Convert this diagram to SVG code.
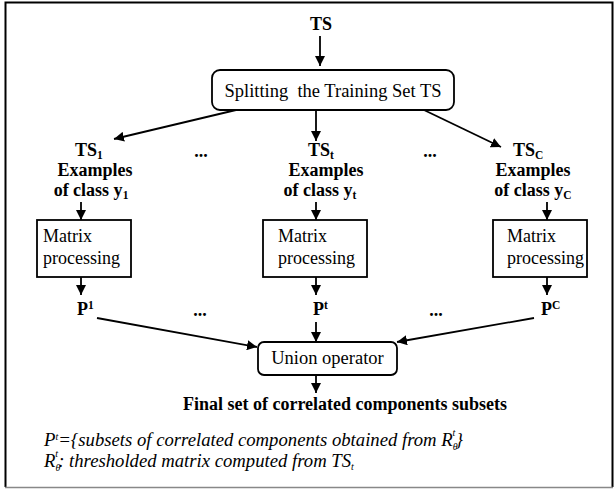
<svg xmlns="http://www.w3.org/2000/svg" width="616" height="490" viewBox="0 0 616 490">
<defs>
<marker id="ah" viewBox="0 0 10 10" refX="10" refY="5" markerWidth="10" markerHeight="10" markerUnits="userSpaceOnUse" orient="auto">
<path d="M0,0 L10,5 L0,10 z" fill="#000"/>
</marker>
<style>
.b{font-family:"Liberation Serif","Times New Roman",serif;font-weight:bold;font-size:18px;fill:#000}
.r{font-family:"Liberation Serif","Times New Roman",serif;font-size:18px;fill:#000}
.i{font-family:"Liberation Serif","Times New Roman",serif;font-style:italic;font-size:18.7px;fill:#000}
.box{fill:#fff;stroke:#000;stroke-width:1.8}
.ln{stroke:#000;stroke-width:1.8;fill:none;marker-end:url(#ah)}
.sub{font-size:11.5px}
.ss{font-size:10px}
</style>
</defs>
<rect x="0" y="0" width="616" height="490" fill="#fff"/>
<path d="M5.5,487 L5.5,2.5 L612.5,2.5 L612.5,487" fill="none" stroke="#000" stroke-width="2"/>
<line x1="5" y1="487.5" x2="613" y2="487.5" stroke="#888" stroke-width="1.5"/>

<g id="connectors">
<line class="ln" x1="320" y1="36" x2="320" y2="66"/>
<line class="ln" x1="236" y1="110" x2="114" y2="139"/>
<line class="ln" x1="316" y1="110" x2="316" y2="141"/>
<line class="ln" x1="424" y1="110" x2="501" y2="147"/>
<line class="ln" x1="81" y1="202" x2="81" y2="220"/>
<line class="ln" x1="316" y1="202" x2="316" y2="220"/>
<line class="ln" x1="547" y1="202" x2="547" y2="220"/>
<line class="ln" x1="81" y1="277" x2="81" y2="295"/>
<line class="ln" x1="316" y1="277" x2="316" y2="295"/>
<line class="ln" x1="547" y1="277" x2="547" y2="295"/>
<line class="ln" x1="97" y1="318" x2="257" y2="347"/>
<line class="ln" x1="316" y1="322" x2="316" y2="342"/>
<line class="ln" x1="534" y1="318" x2="397" y2="342"/>
<line class="ln" x1="316" y1="375" x2="316" y2="393"/>
</g>

<g id="ts"><text class="b" x="321" y="30" text-anchor="middle">TS</text></g>

<g id="split">
<rect class="box" x="212" y="70" width="242" height="40" rx="8"/>
<text class="r" x="333" y="97" text-anchor="middle" style="font-size:18.5px;white-space:pre" xml:space="preserve">Splitting  the Training Set TS</text>
</g>

<g id="ts1">
<text class="b" x="75" y="156">TS<tspan class="sub" dy="2.5">1</tspan></text>
<text class="b" x="95" y="176" text-anchor="middle">Examples</text>
<text class="b" x="91" y="196" text-anchor="middle">of class y<tspan class="sub" dy="2.5">1</tspan></text>
</g>
<g id="tst">
<text class="b" x="308" y="156">TS<tspan class="sub" dy="2.5">t</tspan></text>
<text class="b" x="326" y="176" text-anchor="middle">Examples</text>
<text class="b" x="320" y="196" text-anchor="middle">of class y<tspan class="sub" dy="2.5">t</tspan></text>
</g>
<g id="tsc">
<text class="b" x="513" y="156">TS<tspan class="sub" dy="2.5">C</tspan></text>
<text class="b" x="533" y="176" text-anchor="middle">Examples</text>
<text class="b" x="533" y="196" text-anchor="middle">of class y<tspan class="sub" dy="2.5">C</tspan></text>
</g>
<g id="dots1"><text class="b" x="201" y="157" text-anchor="middle">...</text></g>
<g id="dots2"><text class="b" x="430" y="157" text-anchor="middle">...</text></g>

<g id="mp1">
<rect class="box" x="37" y="220" width="94" height="57"/>
<text class="r" x="43" y="242">Matrix</text>
<text class="r" x="43" y="264">processing</text>
</g>
<g id="mpt">
<rect class="box" x="263" y="220" width="104" height="57"/>
<text class="r" x="278" y="242">Matrix</text>
<text class="r" x="278" y="264">processing</text>
</g>
<g id="mpc">
<rect class="box" x="493" y="220" width="94" height="57"/>
<text class="r" x="507" y="242">Matrix</text>
<text class="r" x="507" y="264">processing</text>
</g>

<g id="p1"><text class="b" x="77" y="315">P<tspan class="sub" dy="-6">1</tspan></text></g>
<g id="pt"><text class="b" x="313" y="315">P<tspan class="sub" dy="-6">t</tspan></text></g>
<g id="pc"><text class="b" x="541" y="315">P<tspan class="sub" dy="-6">C</tspan></text></g>
<g id="dots3"><text class="b" x="200" y="316" text-anchor="middle">...</text></g>
<g id="dots4"><text class="b" x="436" y="316" text-anchor="middle">...</text></g>

<g id="union">
<rect class="box" x="258" y="342" width="139" height="33" rx="6"/>
<text class="r" x="327.5" y="364" text-anchor="middle" style="font-size:18.5px">Union operator</text>
</g>

<g id="final"><text class="b" x="345" y="410" text-anchor="middle">Final set of correlated components subsets</text></g>

<g id="note">
<text class="i" x="44" y="446">P<tspan class="ss" dy="-6">t</tspan><tspan dy="6">={subsets of correlated components obtained from R</tspan><tspan class="ss" dy="4">θ</tspan><tspan class="ss" dx="-5" dy="-14">t</tspan><tspan dy="10">}</tspan></text>
<text class="i" x="44" y="467">R<tspan class="ss" dy="4">θ</tspan><tspan class="ss" dx="-5" dy="-14">t</tspan><tspan dy="10">: thresholded matrix computed from TS</tspan><tspan class="ss" dy="3">t</tspan></text>
</g>
</svg>
